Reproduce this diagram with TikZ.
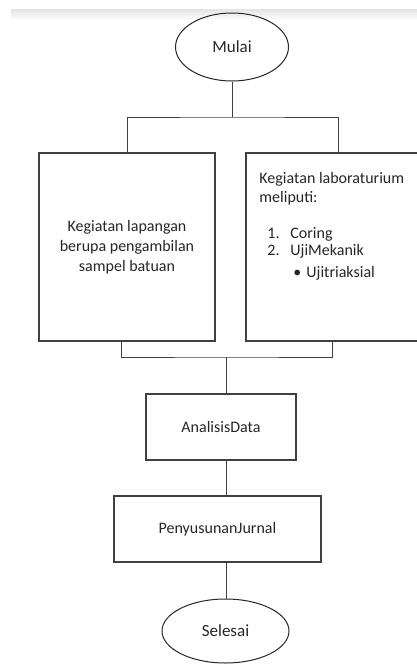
\documentclass[tikz,border=0pt]{standalone}
\usepackage{fontspec}
\setmainfont{Carlito}
\usetikzlibrary{calc,shapes.geometric}

\tikzset{
    garis/.style={draw=black!75, line width=1pt},
    kotak/.style={draw=black!75, line width=1.5pt, rectangle, align=center},
    terminal/.style={draw=black!85, line width=1pt, ellipse, inner sep=0pt},
}

\begin{document}
\begin{tikzpicture}[x=1pt, y=-1pt, font=\fontsize{16}{20}\selectfont, text=black!85]

    \clip (0,0) rectangle (417,664);
    \useasboundingbox (0,0) rectangle (417,664);
    \shade[top color=gray!22, bottom color=white] (11,9) rectangle (417,20);

    \node[terminal, minimum width=113, minimum height=68, font=\fontsize{17}{20}\selectfont] (mulai) at (232,47) {Mulai};

    \node[kotak, minimum width=176, minimum height=188] (lapangan) at (127,247)
        {Kegiatan lapangan\\berupa pengambilan\\sampel batuan};
    \node[kotak, minimum width=184, minimum height=188] (lab) at (338,247) {};
    \node[anchor=north west, align=left, inner sep=0pt, font=\fontsize{16}{19}\selectfont]
        (labteks) at ($(lab.north west)+(14,20)$)
        {Kegiatan laboraturium\\meliputi:\\[17pt]
         \hspace*{8pt}\makebox[23pt][l]{1.}Coring\\[-2pt]
         \hspace*{8pt}\makebox[23pt][l]{2.}UjiMekanik\\[3pt]
         \hspace*{34pt}\makebox[13pt][l]{\textbullet}Ujitriaksial};

    \node[kotak, minimum width=150, minimum height=66] (analisis) at (221,427) {AnalisisData};
    \node[kotak, minimum width=207, minimum height=66] (jurnal) at (217.5,529) {PenyusunanJurnal};
    \node[terminal, minimum width=127, minimum height=64, font=\fontsize{17}{20}\selectfont] (selesai) at (225.5,631) {Selesai};

    % percabangan
    \coordinate (cabang) at (232,117);
    \coordinate (gabung) at (226,357);

    \draw[garis] (mulai) -- (cabang);
    \draw[garis] (lapangan.north) |- (cabang) -| (lab.north);
    \draw[garis] ($(lapangan.south)+(-6,0)$) |- (gabung) -| ($(lab.south)+(-6,0)$);
    \draw[garis] (gabung) -- (gabung |- analisis.north);
    \draw[garis] (analisis.south -| gabung) -- (jurnal.north -| gabung);
    \draw[garis] (jurnal.south -| gabung) -- (gabung |- selesai.north);

\end{tikzpicture}
\end{document}
